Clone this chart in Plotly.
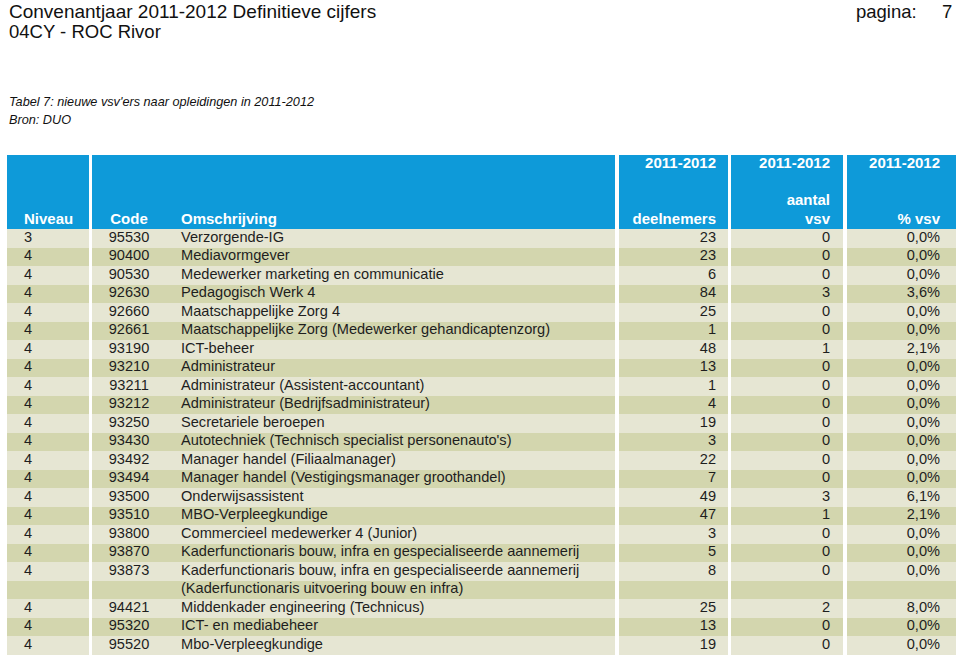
import plotly.graph_objects as go

# table data
niveau = ["3", "4", "4", "4", "4", "4", "4", "4", "4", "4", "4", "4",
          "4", "4", "4", "4", "4", "4", "4", "", "4", "4", "4"]
code = ["95530", "90400", "90530", "92630", "92660", "92661", "93190", "93210",
        "93211", "93212", "93250", "93430", "93492", "93494", "93500", "93510",
        "93800", "93870", "93873", "", "94421", "95320", "95520"]
omschrijving = [
    "Verzorgende-IG",
    "Mediavormgever",
    "Medewerker marketing en communicatie",
    "Pedagogisch Werk 4",
    "Maatschappelijke Zorg 4",
    "Maatschappelijke Zorg (Medewerker gehandicaptenzorg)",
    "ICT-beheer",
    "Administrateur",
    "Administrateur (Assistent-accountant)",
    "Administrateur (Bedrijfsadministrateur)",
    "Secretariele beroepen",
    "Autotechniek (Technisch specialist personenauto's)",
    "Manager handel (Filiaalmanager)",
    "Manager handel (Vestigingsmanager groothandel)",
    "Onderwijsassistent",
    "MBO-Verpleegkundige",
    "Commercieel medewerker 4 (Junior)",
    "Kaderfunctionaris bouw, infra en gespecialiseerde aannemerij",
    "Kaderfunctionaris bouw, infra en gespecialiseerde aannemerij",
    "(Kaderfunctionaris uitvoering bouw en infra)",
    "Middenkader engineering (Technicus)",
    "ICT- en mediabeheer",
    "Mbo-Verpleegkundige",
]
deelnemers = ["23", "23", "6", "84", "25", "1", "48", "13", "1", "4", "19", "3",
              "22", "7", "49", "47", "3", "5", "8", "", "25", "13", "19"]
aantal_vsv = ["0", "0", "0", "3", "0", "0", "1", "0", "0", "0", "0", "0",
              "0", "0", "3", "1", "0", "0", "0", "", "2", "0", "0"]
pct_vsv = ["0,0%", "0,0%", "0,0%", "3,6%", "0,0%", "0,0%", "2,1%", "0,0%",
           "0,0%", "0,0%", "0,0%", "0,0%", "0,0%", "0,0%", "6,1%", "2,1%",
           "0,0%", "0,0%", "0,0%", "", "8,0%", "0,0%", "0,0%"]

# header labels
head_year = ["2011-2012", "2011-2012", "2011-2012"]
head_names = ["Niveau", "Code", "Omschrijving", "deelnemers", "vsv", "% vsv"]
head_extra = "aantal"

BLUE = "#0e9ad9"
LIGHT = "#e6e6d3"
DARK = "#d3d6ae"
FONT = "Liberation Sans, Arial, sans-serif"

W, H = 960, 661
ROW0, ROWH = 238.25, 18.5   # centre of first data row and row height (px)

# column blocks (left, right) and text anchors
blocks = [(7, 88.5), (92, 615), (618.5, 727.5), (731, 843), (846.5, 956)]
x_niveau, x_code, x_oms = 24, 129, 181
x_deel, x_aantal, x_pct = 716, 830, 940

rows = list(range(len(niveau)))
row_fill = [LIGHT if i % 2 == 0 else DARK for i in rows]

fig = go.Figure()

# header background (4 rows high)
fig.add_trace(go.Bar(orientation="h", y=[-2.5] * len(blocks),
                     base=[b[0] for b in blocks], x=[b[1] - b[0] for b in blocks],
                     width=4, marker=dict(color=BLUE, line=dict(width=0)),
                     hoverinfo="skip"))
# body background, one bar per row per block
for x0, x1 in blocks:
    fig.add_trace(go.Bar(orientation="h", y=rows, base=[x0] * len(rows),
                         x=[x1 - x0] * len(rows), width=1,
                         marker=dict(color=row_fill, line=dict(width=0)),
                         hoverinfo="skip"))


def text_col(x, ys, labels, pos, size=14.6, color="#1e1e1e", bold=False):
    fig.add_trace(go.Scatter(
        x=[x] * len(ys), y=ys, text=labels, mode="text", textposition=pos,
        textfont=dict(family=FONT, size=size, color=color,
                      weight="bold" if bold else "normal"),
        hoverinfo="skip"))


# body text
text_col(x_niveau, rows, niveau, "middle right")
text_col(x_code, rows, code, "middle center")
text_col(x_oms, rows, omschrijving, "middle right")
text_col(x_deel, rows, deelnemers, "middle left")
text_col(x_aantal, rows, aantal_vsv, "middle left")
text_col(x_pct, rows, pct_vsv, "middle left")

# header text
hw = dict(color="white", bold=True, size=15)
text_col(x_deel, [-4], head_year[:1], "middle left", **hw)
text_col(x_aantal, [-4], head_year[1:2], "middle left", **hw)
text_col(x_pct, [-4], head_year[2:], "middle left", **hw)
text_col(x_niveau, [-1], head_names[:1], "middle right", **hw)
text_col(x_code, [-1], head_names[1:2], "middle center", **hw)
text_col(x_oms, [-1], head_names[2:3], "middle right", **hw)
text_col(x_deel, [-1], head_names[3:4], "middle left", **hw)
text_col(x_aantal, [-2, -1], [head_extra, head_names[4]], "middle left", **hw)
text_col(x_pct, [-1], head_names[5:6], "middle left", **hw)

anns = [
    ("Convenantjaar 2011-2012 Definitieve cijfers", 7, 11, 19, "left", False),
    ("04CY - ROC Rivor", 7, 31, 18.5, "left", False),
    ("pagina:", 919, 11, 18.5, "right", False),
    ("7", 954, 11, 18.5, "right", False),
    ("Tabel 7: nieuwe vsv'ers naar opleidingen in 2011-2012", 7, 102, 12.7, "left", True),
    ("Bron: DUO", 7, 120, 12.7, "left", True),
]
for text, x, y, size, anchor, ital in anns:
    fig.add_annotation(x=x / W, y=1 - y / H, xref="paper", yref="paper", text=text,
                       xanchor=anchor, yanchor="middle", showarrow=False,
                       font=dict(family=FONT, size=size, color="#111111",
                                 style="italic" if ital else "normal"))

fig.update_xaxes(range=[0, W], visible=False, fixedrange=True)
fig.update_yaxes(range=[(H - ROW0) / ROWH, -ROW0 / ROWH],
                 visible=False, fixedrange=True)
fig.update_layout(width=W, height=H, margin=dict(l=0, r=0, t=0, b=0),
                  barmode="overlay", bargap=0, showlegend=False,
                  paper_bgcolor="white", plot_bgcolor="white")
fig.write_html("out.html", config={"displayModeBar": False},
               post_script="document.body.style.margin = '0';")
